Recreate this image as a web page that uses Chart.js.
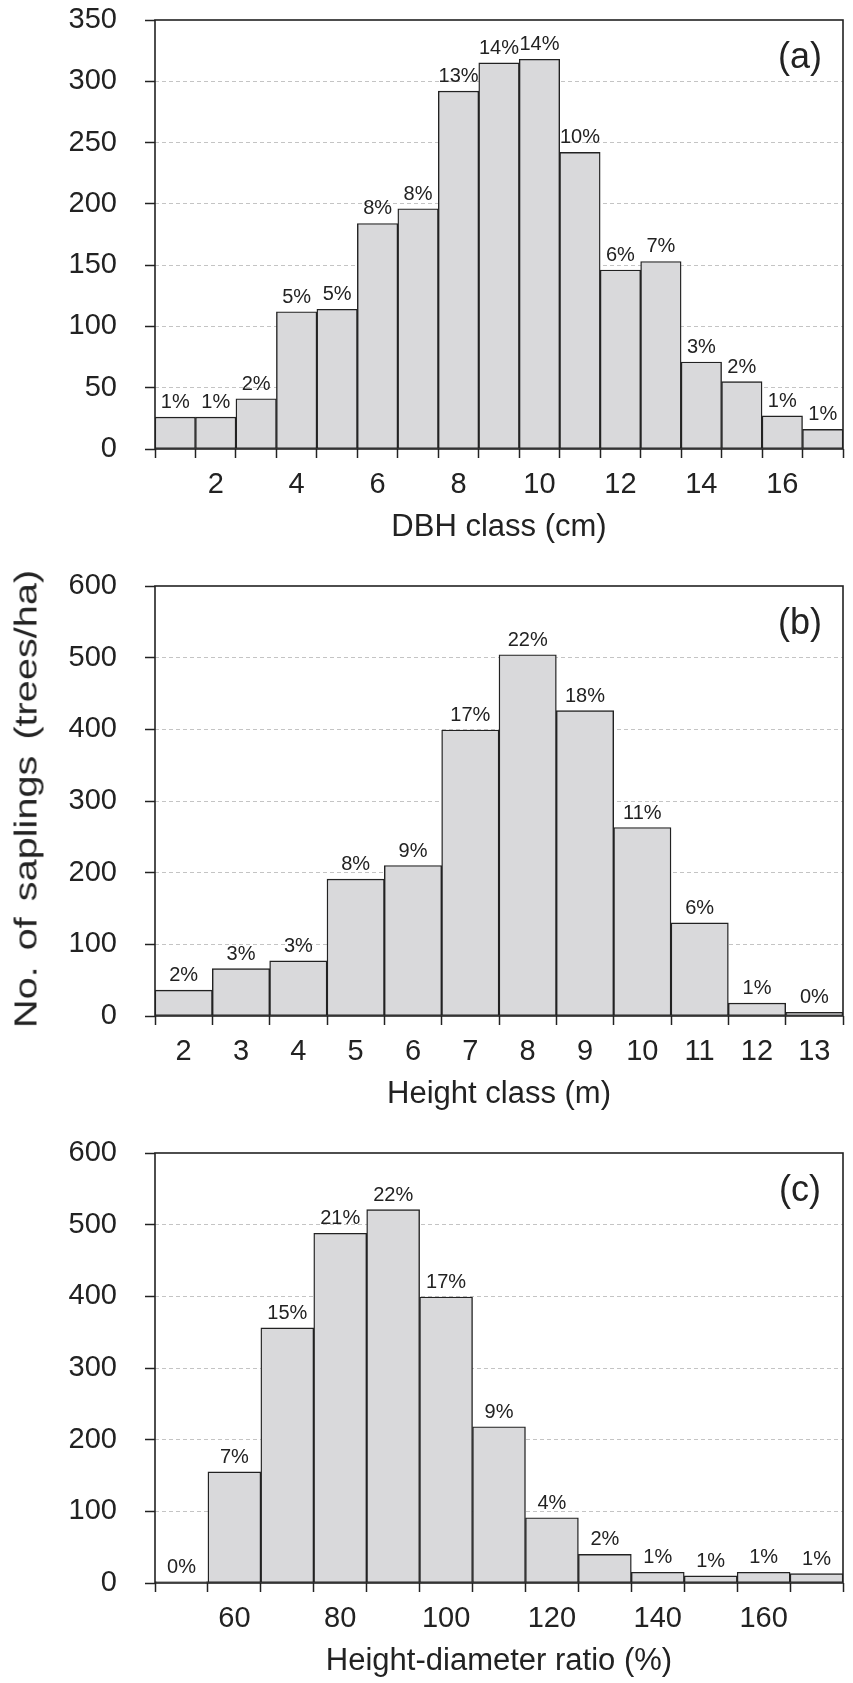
<!DOCTYPE html>
<html>
<head>
<meta charset="utf-8">
<script src="https://cdn.jsdelivr.net/npm/chart.js@4.4.1/dist/chart.umd.min.js"></script>
<style>
  html, body { margin: 0; padding: 0; background: #fff; overflow: hidden; }
  #wrap { position: relative; width: 853px; height: 1683px; }
  .panel { position: absolute; left: 0; }
  #y-title {
    position: absolute; left: 26px; top: 799px;
    transform: translate(-50%, -50%) rotate(-90deg) scaleX(1.24);
    font: 32px "Liberation Sans", Arial, sans-serif; color: #222;
    white-space: pre; word-spacing: 4px;
  }
</style>
</head>
<body>
<div id="wrap">
  <canvas class="panel" id="chart-a" width="853" height="559" style="top:0"></canvas>
  <canvas class="panel" id="chart-b" width="853" height="566" style="top:560px"></canvas>
  <canvas class="panel" id="chart-c" width="853" height="583" style="top:1110px"></canvas>
  <div id="y-title">No. of saplings (trees/ha)</div>
</div>
<script>
// (a) DBH classes
const dbhClasses = [1, 2, 3, 4, 5, 6, 7, 8, 9, 10, 11, 12, 13, 14, 15, 16, 17];
const dbhCounts = [26, 26, 41, 112, 114, 184, 196, 292, 315, 318, 242, 146, 153, 71, 55, 27, 16];
const dbhPct = [1, 1, 2, 5, 5, 8, 8, 13, 14, 14, 10, 6, 7, 3, 2, 1, 1];
const dbhTicks = [2, 4, 6, 8, 10, 12, 14, 16];

// (b) height classes
const heightClasses = [2, 3, 4, 5, 6, 7, 8, 9, 10, 11, 12, 13];
const heightCounts = [36, 66, 77, 191, 210, 399, 504, 426, 263, 130, 18, 5];
const heightPct = [2, 3, 3, 8, 9, 17, 22, 18, 11, 6, 1, 0];
const heightTicks = [2, 3, 4, 5, 6, 7, 8, 9, 10, 11, 12, 13];

// (c) height-diameter ratio classes
const hdClasses = [50, 60, 70, 80, 90, 100, 110, 120, 130, 140, 150, 160, 170];
const hdCounts = [2, 155, 356, 488, 521, 399, 218, 91, 40, 15, 10, 15, 13];
const hdPct = [0, 7, 15, 21, 22, 17, 9, 4, 2, 1, 1, 1, 1];
const hdTicks = [60, 80, 100, 120, 140, 160];

const FONT = '"Liberation Sans", Arial, sans-serif';
const INK = '#222';
const BAR_FILL = '#d9d9db';
const GRID = '#c4c4c4';

Chart.defaults.font.family = FONT;
Chart.defaults.color = INK;

// box round the plot area
const framePlugin = {
    id: 'frame',
    afterDatasetsDraw(chart) {
        const { ctx, chartArea: a } = chart;
        ctx.save();
        ctx.strokeStyle = INK;
        ctx.lineWidth = 1.6;
        ctx.strokeRect(a.left, a.top, a.right - a.left, a.bottom - a.top);
        ctx.restore();
    }
};

// percentage above each bar
const pctLabels = {
    id: 'pctLabels',
    afterDatasetsDraw(chart, args, opts) {
        const ctx = chart.ctx;
        const meta = chart.getDatasetMeta(0);
        ctx.save();
        ctx.font = '20px ' + FONT;
        ctx.fillStyle = INK;
        ctx.textAlign = 'center';
        ctx.textBaseline = 'alphabetic';
        meta.data.forEach((bar, i) => {
            ctx.fillText(opts.values[i] + '%', bar.x, bar.y - 9);
        });
        ctx.restore();
    }
};

// (a) / (b) / (c) tag in the corner
const panelTag = {
    id: 'panelTag',
    afterDraw(chart, args, opts) {
        const { ctx, chartArea: a } = chart;
        ctx.save();
        ctx.font = '36px ' + FONT;
        ctx.fillStyle = INK;
        ctx.textAlign = 'center';
        ctx.textBaseline = 'middle';
        ctx.fillText(opts.text, a.right - 43, a.top + 38);
        ctx.restore();
    }
};

function buildPanel(id, p) {
    return new Chart(document.getElementById(id), {
        type: 'bar',
        data: {
            labels: p.classes,
            datasets: [{
                data: p.counts,
                backgroundColor: BAR_FILL,
                borderColor: INK,
                borderWidth: 1.4,
                borderSkipped: false,
                categoryPercentage: 1,
                barPercentage: 1
            }]
        },
        options: {
            responsive: false,
            animation: false,
            layout: { padding: { top: p.top, right: 10, left: 0, bottom: 0 } },
            plugins: {
                legend: { display: false },
                tooltip: { enabled: false },
                pctLabels: { values: p.pct },
                panelTag: { text: p.tag }
            },
            scales: {
                x: {
                    offset: true,
                    grid: { offset: true, drawOnChartArea: false, tickLength: 9, tickColor: INK, tickWidth: 1.5 },
                    border: { display: false },
                    ticks: {
                        autoSkip: false, maxRotation: 0, minRotation: 0, padding: 10,
                        font: { size: 29 },
                        callback: (v, i) => p.shown.includes(p.classes[i]) ? String(p.classes[i]) : ''
                    },
                    title: { display: true, text: p.xTitle, font: { size: 31 }, padding: { top: 0, bottom: 13 } },
                    afterFit: s => { s.height = 110; s.paddingLeft = 0; s.paddingRight = 0; }
                },
                y: {
                    min: 0,
                    max: p.yMax,
                    ticks: { stepSize: p.yStep, padding: 28, font: { size: 29 } },
                    grid: {
                        color: c => (c.tick && (c.tick.value === 0 || c.tick.value === p.yMax)) ? 'rgba(0,0,0,0)' : GRID,
                        lineWidth: 1,
                        tickLength: 10,
                        tickColor: INK,
                        tickWidth: 1.5
                    },
                    border: { display: false, dash: [4, 3] },
                    afterFit: s => { s.width = 155; s.paddingTop = 0; s.paddingBottom = 0; }
                }
            }
        },
        plugins: [framePlugin, pctLabels, panelTag]
    });
}

buildPanel('chart-a', {
    classes: dbhClasses, counts: dbhCounts, pct: dbhPct, shown: dbhTicks,
    yMax: 350, yStep: 50, top: 20, tag: '(a)', xTitle: 'DBH class (cm)'
});
buildPanel('chart-b', {
    classes: heightClasses, counts: heightCounts, pct: heightPct, shown: heightTicks,
    yMax: 600, yStep: 100, top: 26, tag: '(b)', xTitle: 'Height class (m)'
});
buildPanel('chart-c', {
    classes: hdClasses, counts: hdCounts, pct: hdPct, shown: hdTicks,
    yMax: 600, yStep: 100, top: 43, tag: '(c)', xTitle: 'Height-diameter ratio (%)'
});
</script>
</body>
</html>
